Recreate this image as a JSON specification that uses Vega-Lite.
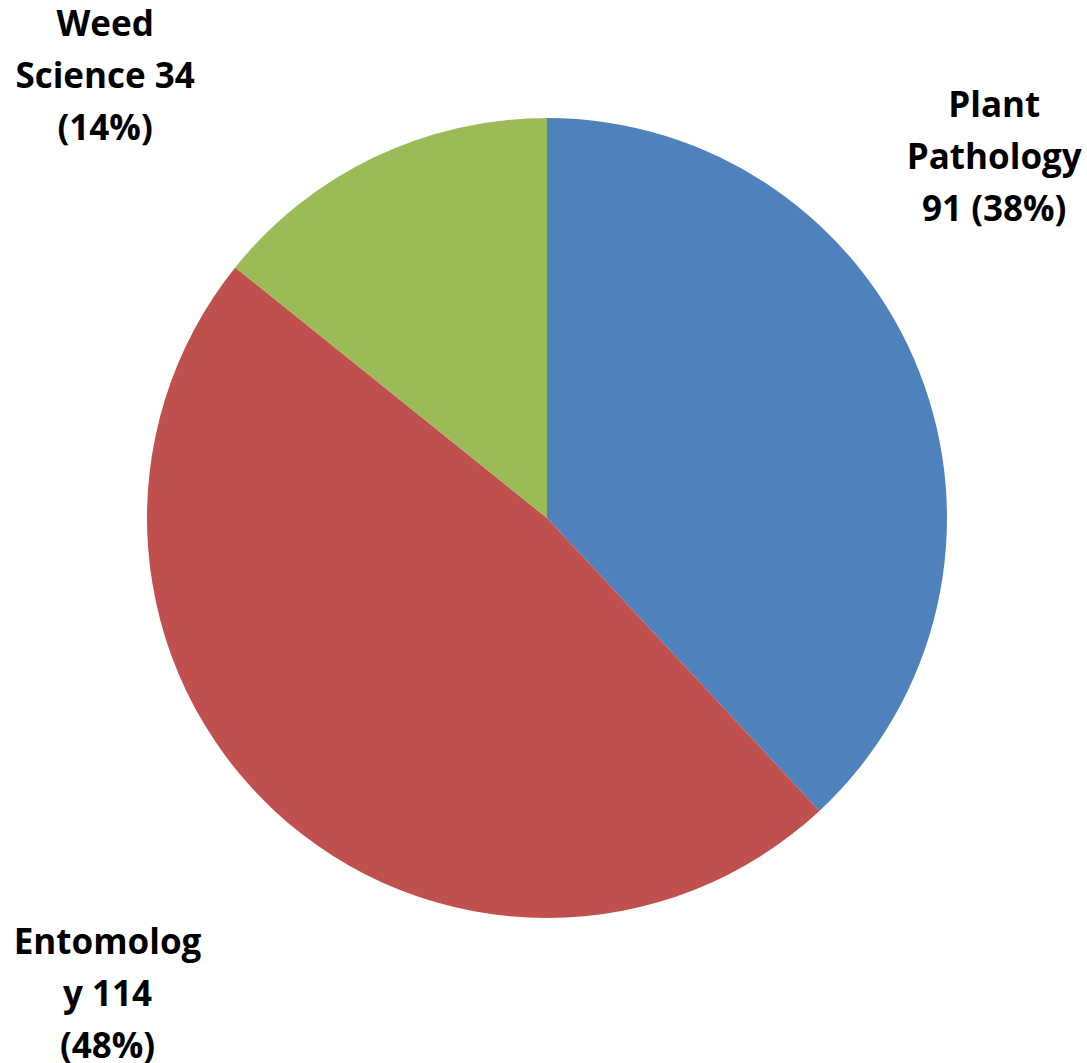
{
  "$schema": "https://vega.github.io/schema/vega-lite/v6.json",
  "width": 1080,
  "height": 1036,
  "autosize": {"type": "none"},
  "padding": {"left": 7, "top": 0, "right": 0, "bottom": 27},
  "background": "white",
  "view": {"stroke": null},
  "data": {
    "values": [
      {"category": "Plant Pathology", "count": 91, "label": "Plant\nPathology\n91 (38%)", "order": 1},
      {"category": "Entomology", "count": 114, "label": "Entomolog\ny 114\n(48%)", "order": 2},
      {"category": "Weed Science", "count": 34, "label": "Weed\nScience 34\n(14%)", "order": 3}
    ]
  },
  "encoding": {
    "theta": {"field": "count", "type": "quantitative", "stack": true},
    "order": {"field": "order", "type": "quantitative"}
  },
  "layer": [
    {
      "mark": {"type": "arc", "outerRadius": 400},
      "encoding": {
        "color": {
          "field": "category",
          "type": "nominal",
          "scale": {"domain": ["Plant Pathology", "Entomology", "Weed Science"], "range": ["#4F81BD", "#C0504D", "#9BBB59"]},
          "legend": null
        }
      }
    },
    {
      "mark": {"type": "text", "radius": 400, "dx": 75, "dy": -266, "lineBreak": "\n", "font": "Open Sans", "fontWeight": "bold", "fontSize": 35, "lineHeight": 52, "align": "center", "baseline": "middle"},
      "encoding": {
        "detail": {"field": "category", "type": "nominal"},
        "color": {"value": "#000000"},
        "text": {"condition": {"test": "datum.category === 'Plant Pathology'", "field": "label", "type": "nominal"}, "value": ""}
      }
    },
    {
      "mark": {"type": "text", "radius": 400, "dx": -167, "dy": 132, "lineBreak": "\n", "font": "Open Sans", "fontWeight": "bold", "fontSize": 35, "lineHeight": 52, "align": "center", "baseline": "middle"},
      "encoding": {
        "detail": {"field": "category", "type": "nominal"},
        "color": {"value": "#000000"},
        "text": {"condition": {"test": "datum.category === 'Entomology'", "field": "label", "type": "nominal"}, "value": ""}
      }
    },
    {
      "mark": {"type": "text", "radius": 400, "dx": -269, "dy": -132, "lineBreak": "\n", "font": "Open Sans", "fontWeight": "bold", "fontSize": 35, "lineHeight": 52, "align": "center", "baseline": "middle"},
      "encoding": {
        "detail": {"field": "category", "type": "nominal"},
        "color": {"value": "#000000"},
        "text": {"condition": {"test": "datum.category === 'Weed Science'", "field": "label", "type": "nominal"}, "value": ""}
      }
    }
  ]
}
